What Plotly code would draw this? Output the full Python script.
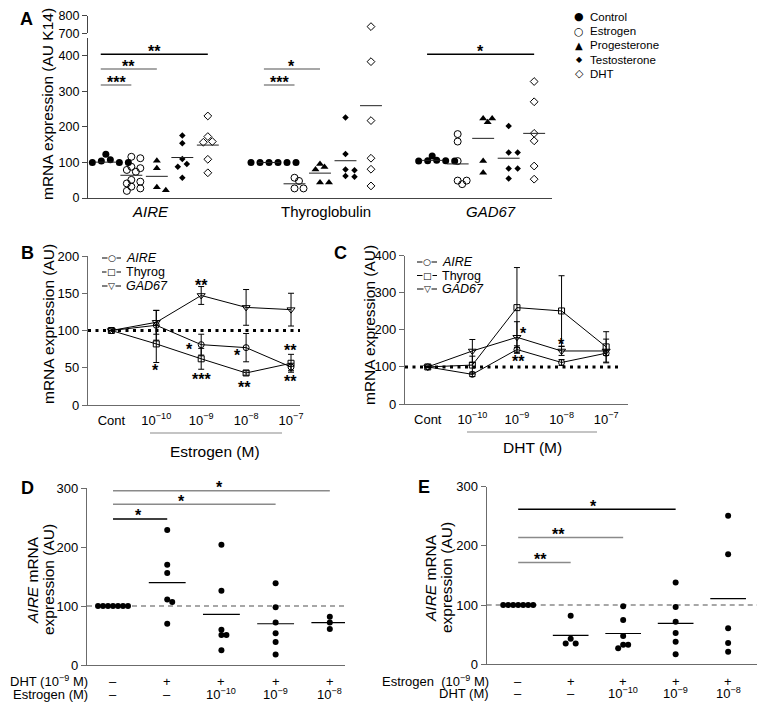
import numpy as np
import plotly.graph_objects as go

W, H = 767, 716
FONT = "Liberation Sans, Arial, Helvetica, sans-serif"
SYM = "DejaVu Sans"
AXC = "#6b6b6b"
GRAY = "#8a8a8a"

# ---------------- data: panel A ----------------
a_genes = ["<i>AIRE</i>", "Thyroglobulin", "<i>GAD67</i>"]
a_treatments = ["Control", "Estrogen", "Progesterone", "Testosterone", "DHT"]

aire_ctrl = [123, 108, 104, 100, 100, 100, 100]
aire_estr = [116, 112, 88, 84, 79, 74, 51, 46, 41, 32, 27, 20]
aire_prog = [105, 84, 30, 22]
aire_test = [176, 154, 110, 96, 88, 57]
aire_dht = [231, 173, 159, 157, 109, 71]
aire_mean = [101, 64, 61, 114, 149]

thyr_ctrl = [100, 100, 100, 100, 100, 100]
thyr_estr = [57, 48, 27, 27]
thyr_prog = [96, 87, 80, 44, 44]
thyr_test = [227, 124, 80, 78, 62, 60]
thyr_dht = [738, 384, 218, 112, 81, 34]
thyr_mean = [100, 40, 70, 105, 260]

gad_ctrl = [118, 106, 105, 105, 104, 104]
gad_estr = [180, 159, 104, 49, 49, 39]
gad_prog = [224, 224, 213, 104, 71]
gad_test = [203, 128, 128, 83, 83, 55]
gad_dht = [328, 271, 182, 161, 90, 53]
gad_mean = [106, 96, 168, 112, 182]

a_sig_gene = [0, 0, 0, 1, 1, 2]
a_sig_treat = [1, 2, 4, 1, 2, 4]
a_sig_y = [318, 363, 405, 318, 363, 405]
a_sig_text = ["***", "**", "**", "***", "*", "*"]

# ---------------- data: panels B, C ----------------
doses = ["Cont", "10<sup>−10</sup>", "10<sup>−9</sup>", "10<sup>−8</sup>", "10<sup>−7</sup>"]
series_names = ["<i>AIRE</i>", "Thyrog", "<i>GAD67</i>"]

b_aire = [100, 107, 81, 77, 51]
b_aire_err = [0, 20, 14, 19, 5]
b_thyr = [100, 82, 62, 43, 56]
b_thyr_err = [0, 25, 14, 3, 12]
b_gad = [100, 111, 147, 131, 128]
b_gad_err = [0, 16, 12, 24, 22]
b_star_x = [2.0, 1.74, 2.0, 0.98, 2.8, 2.96, 3.98, 3.98]
b_star_y = [165, 78, 38, 50, 70, 27, 77, 35]
b_star_text = ["**", "*", "***", "*", "*", "**", "**", "**"]

c_aire = [100, 80, 147, 112, 137]
c_aire_err = [0, 6, 10, 8, 6]
c_thyr = [100, 105, 260, 251, 154]
c_thyr_err = [0, 24, 108, 95, 41]
c_gad = [100, 143, 180, 143, 143]
c_gad_err = [0, 31, 42, 12, 32]
c_star_x = [2.14, 2.03, 2.99]
c_star_y = [199, 123, 168]
c_star_text = ["*", "**", "*"]

# ---------------- data: panels D, E ----------------
d_col1 = [100, 100, 100, 100, 100, 100, 100]
d_col2 = [229, 170, 156, 111, 107, 70]
d_col3 = [204, 126, 60, 51, 51, 25]
d_col4 = [139, 98, 72, 54, 39, 18]
d_col5 = [82, 72, 61]
d_mean = [100, 140, 86, 70, 72]
d_row1 = ["–", "+", "+", "+", "+"]
d_row2 = ["–", "–", "10<sup>−10</sup>", "10<sup>−9</sup>", "10<sup>−8</sup>"]
d_row_labels = ["DHT (10<sup>−9</sup> M)", "Estrogen (M)"]
d_sig_col = [1, 3, 4]
d_sig_y = [248, 273, 296]
d_sig_star_x = [0.47, 1.27, 1.97]
d_sig_text = ["*", "*", "*"]

e_col1 = [100, 100, 100, 100, 100, 100, 100]
e_col2 = [82, 43, 35, 35]
e_col3 = [98, 75, 48, 33, 33, 27]
e_col4 = [138, 97, 72, 53, 38, 17]
e_col5 = [251, 186, 61, 36, 21]
e_mean = [100, 49, 52, 69, 111]
e_row1 = ["–", "+", "+", "+", "+"]
e_row2 = ["–", "–", "10<sup>−10</sup>", "10<sup>−9</sup>", "10<sup>−8</sup>"]
e_row_labels = ["Estrogen  (10<sup>−9</sup> M)", "DHT (M)"]
e_sig_col = [1, 2, 3]
e_sig_y = [172, 214, 262]
e_sig_star_x = [0.43, 0.76, 1.43]
e_sig_text = ["**", "**", "*"]


# ---------------- helpers ----------------
def fx(px):
    return px / W


def fy(py):
    return 1 - py / H


def swarm(vals, ysc, xsc, step=4.5, mind=5.0):
    order = [0]
    for k in range(1, 30):
        order += [k, -k]
    placed, offs = [], []
    for v in vals:
        y = v * ysc
        x = 0
        for k in order:
            x = k * step
            if all((x - a) ** 2 + (y - b) ** 2 >= mind ** 2 for a, b in placed):
                break
        placed.append((x, y))
        offs.append(x / xsc)
    return offs


annotations = []
shapes = []


def ann(text, px, py, size=13, xanchor="center", yanchor="middle", family=FONT, **kw):
    annotations.append(dict(text=text, x=fx(px), y=fy(py), xref="paper", yref="paper",
                            showarrow=False, xanchor=xanchor, yanchor=yanchor, borderpad=0,
                            font=dict(size=size, color="black", family=family), **kw))


def star(text, x, y, xref, yref, yshift=-3):
    annotations.append(dict(text="<b>" + text + "</b>", x=x, y=y, xref=xref, yref=yref,
                            showarrow=False, borderpad=0,
                            xanchor="center", yanchor="middle", yshift=yshift,
                            font=dict(size=16, color="black", family=FONT)))


def yax(dom, rng, **kw):
    d = dict(domain=dom, range=rng, showline=True, linecolor=AXC, linewidth=1.2,
             showgrid=False, zeroline=False, ticks="outside", ticklen=5, tickcolor=AXC,
             tickwidth=1.2, tickfont=dict(size=13, color="black", family=FONT),
             automargin=False)
    d.update(kw)
    return d


def xax(dom, rng, **kw):
    d = dict(domain=dom, range=rng, showline=True, linecolor=AXC, linewidth=1.2,
             showgrid=False, zeroline=False, ticks="", showticklabels=False,
             tickfont=dict(size=13, color="black", family=FONT), automargin=False)
    d.update(kw)
    return d


fig = go.Figure()

# ================= Panel A =================
A_GAP = 6.4
A_XSC, A_YSC = 25.5, 0.355
a_data = [
    [aire_ctrl, aire_estr, aire_prog, aire_test, aire_dht],
    [thyr_ctrl, thyr_estr, thyr_prog, thyr_test, thyr_dht],
    [gad_ctrl, gad_estr, gad_prog, gad_test, gad_dht],
]
a_means = [aire_mean, thyr_mean, gad_mean]
a_style = [
    dict(symbol="circle", size=7, color="black"),
    dict(symbol="circle-open", size=7, color="black", line=dict(width=1, color="black")),
    dict(symbol="triangle-up", size=7, color="black"),
    dict(symbol="diamond", size=5, color="black"),
    dict(symbol="diamond-open", size=6, color="black", line=dict(width=1, color="black")),
]
BREAK = 600
for t, name in enumerate(a_treatments):
    xl, yl, xu, yu = [], [], [], []
    for g in range(len(a_genes)):
        vals = a_data[g][t]
        offs = swarm(vals, A_YSC, A_XSC, step=4.5, mind=5.5)
        for v, o in zip(vals, offs):
            xv = g * A_GAP + t + o
            if v > BREAK:
                xu.append(xv); yu.append(v)
            else:
                xl.append(xv); yl.append(v)
    fig.add_trace(go.Scatter(x=xl, y=yl, mode="markers", marker=a_style[t], name=name,
                             xaxis="x", yaxis="y", cliponaxis=False))
    if xu:
        fig.add_trace(go.Scatter(x=xu, y=yu, mode="markers", marker=a_style[t], name=name,
                                 xaxis="x", yaxis="y2", cliponaxis=False))
mx, my = [], []
for g in range(len(a_genes)):
    for t in range(len(a_treatments)):
        c = g * A_GAP + t
        mx += [c - 0.43, c + 0.43, None]
        my += [a_means[g][t], a_means[g][t], None]
fig.add_trace(go.Scatter(x=mx, y=my, mode="lines", line=dict(color="#222", width=1),
                         xaxis="x", yaxis="y"))

a_sig_color = [GRAY, GRAY, "black", GRAY, GRAY, "black"]
for g, t, yv, txt, col in zip(a_sig_gene, a_sig_treat, a_sig_y, a_sig_text, a_sig_color):
    x0 = g * A_GAP - 0.2
    x1 = g * A_GAP + t
    shapes.append(dict(type="line", xref="x", yref="y", x0=x0, x1=x1, y0=yv, y1=yv,
                       line=dict(color=col, width=1.5)))
    star(txt, (x0 + x1) / 2, yv, "x", "y", yshift=3)

# group labels
for g, (lab, px) in enumerate(zip(a_genes, [150, 326, 491])):
    ann(lab, px, 212, size=15)

# legend A
a_leg_glyph = ["●", "○", "▲", "◆", "◇"]
a_leg_size = [11, 11, 10, 8, 11]
for i, (gl, nm) in enumerate(zip(a_leg_glyph, a_treatments)):
    py = 17 + i * 14.2
    ann(gl, 579, py, size=a_leg_size[i], family=SYM)
    ann(nm, 589, py, size=11.5, xanchor="left")

ann("<b>A</b>", 26, 19, size=18)
ann("mRNA expression (AU K14)", 48, 104, size=15.5, textangle=-90)

# ================= Panels B, C =================
def dose_panel(xa, ya, vals_list, err_list, star_x, star_y, star_text):
    xs = list(range(len(doses)))
    syms = ["circle-open", "square-open", "triangle-down-open"]
    sizes = [6, 6, 7]
    for vals, errs, s, sz in zip(vals_list, err_list, syms, sizes):
        fig.add_trace(go.Scatter(
            x=xs, y=vals, mode="lines+markers", xaxis=xa, yaxis=ya, cliponaxis=False,
            line=dict(color="black", width=1),
            marker=dict(symbol=s, size=sz, color="black", line=dict(width=1, color="black")),
            error_y=dict(type="data", array=[e if e > 0 else None for e in errs], visible=True,
                         thickness=1, width=3, color="black")))
    for sx, sy, st in zip(star_x, star_y, star_text):
        star(st, sx, sy, xa, ya)


dose_panel("x3", "y3", [b_aire, b_thyr, b_gad], [b_aire_err, b_thyr_err, b_gad_err],
           b_star_x, b_star_y, b_star_text)
dose_panel("x4", "y4", [c_aire, c_thyr, c_gad], [c_aire_err, c_thyr_err, c_gad_err],
           c_star_x, c_star_y, c_star_text)

B_XR = [-0.52, 4.2]
C_XR = [-0.51, 4.49]
shapes.append(dict(type="line", xref="x3", yref="y3", x0=B_XR[0], x1=B_XR[1], y0=100, y1=100,
                   line=dict(color="black", width=3, dash="3px,4.5px"), layer="below"))
shapes.append(dict(type="line", xref="x4", yref="y4", x0=C_XR[0], x1=4.3, y0=100, y1=100,
                   line=dict(color="black", width=3, dash="3px,4.5px"), layer="below"))

# bracket lines under dose labels
shapes.append(dict(type="line", xref="paper", yref="paper", x0=fx(150), x1=fx(282), y0=fy(433), y1=fy(433),
                   line=dict(color=GRAY, width=1.2)))
shapes.append(dict(type="line", xref="paper", yref="paper", x0=fx(467), x1=fx(597), y0=fy(432), y1=fy(432),
                   line=dict(color=GRAY, width=1.2)))
ann("Estrogen (M)", 215, 452, size=15.5)
ann("DHT (M)", 532, 447, size=15.5)

# legends B, C
leg_glyph = ["○", "□", "▽"]
leg_gsize = [9, 9, 9]
for (lx0, lx1, tx, rows) in [(102, 121, 125, [258, 272, 286]), (417, 437, 441, [262, 275.5, 289])]:
    for i, nm in enumerate(series_names):
        py = rows[i]
        shapes.append(dict(type="line", xref="paper", yref="paper", x0=fx(lx0), x1=fx(lx1),
                           y0=fy(py), y1=fy(py), line=dict(color="black", width=1)))
        ann(leg_glyph[i], (lx0 + lx1) / 2, py, size=leg_gsize[i], family=SYM,
            bgcolor="white")
        ann(nm, tx, py, size=12.5, xanchor="left")

ann("<b>B</b>", 28, 253, size=18)
ann("<b>C</b>", 340, 253, size=18)
ann("mRNA expression (AU)", 48, 324, size=15.5, textangle=-90)
ann("mRNA expression (AU)", 369, 325, size=15.5, textangle=-90)

# ================= Panels D, E =================
def dot_panel(xa, ya, cols, means, ysc, xsc, sig_col, sig_y, sig_sx, sig_text, sig_colors,
              row1, row2, row_labels, row_py, label_px):
    xs, ys = [], []
    for i, vals in enumerate(cols):
        offs = swarm(vals, ysc, xsc, step=5.0, mind=5.0)
        for v, o in zip(vals, offs):
            xs.append(i + o); ys.append(v)
    fig.add_trace(go.Scatter(x=xs, y=ys, mode="markers", xaxis=xa, yaxis=ya, cliponaxis=False,
                             marker=dict(symbol="circle", size=6, color="black")))
    lx, ly = [], []
    for i, m in enumerate(means):
        if i == 0:
            continue
        lx += [i - 0.34, i + 0.34, None]
        ly += [m, m, None]
    fig.add_trace(go.Scatter(x=lx, y=ly, mode="lines", xaxis=xa, yaxis=ya,
                             line=dict(color="black", width=1.2)))
    for c, yv, sx, txt, col in zip(sig_col, sig_y, sig_sx, sig_text, sig_colors):
        shapes.append(dict(type="line", xref=xa, yref=ya, x0=0, x1=c, y0=yv, y1=yv,
                           line=dict(color=col, width=1.5)))
        star(txt, sx, yv, xa, ya, yshift=3)
    for i in range(len(row1)):
        for txt, py in zip([row1[i], row2[i]], row_py):
            annotations.append(dict(text=txt, x=i, y=fy(py), xref=xa, yref="paper", showarrow=False,
                                    xanchor="center", yanchor="middle", borderpad=0,
                                    font=dict(size=13, color="black", family=FONT)))
    for txt, py in zip(row_labels, row_py):
        ann(txt, label_px, py, size=13, xanchor="right")


D_XR = [-0.48, 4.28]
E_XR = [-0.6, 4.55]
dot_panel("x5", "y5", [d_col1, d_col2, d_col3, d_col4, d_col5], d_mean, 0.589, 54.2,
          d_sig_col, d_sig_y, d_sig_star_x, d_sig_text, ["black", GRAY, GRAY],
          d_row1, d_row2, d_row_labels, [681, 694], 89)
dot_panel("x6", "y6", [e_col1, e_col2, e_col3, e_col4, e_col5], e_mean, 0.592, 52.5,
          e_sig_col, e_sig_y, e_sig_star_x, e_sig_text, [GRAY, GRAY, "black"],
          e_row1, e_row2, e_row_labels, [681, 693], 490)
shapes.append(dict(type="line", xref="x5", yref="y5", x0=D_XR[0], x1=D_XR[1], y0=100, y1=100,
                   line=dict(color=GRAY, width=1.5, dash="5px,4px"), layer="below"))
shapes.append(dict(type="line", xref="x6", yref="y6", x0=E_XR[0], x1=E_XR[1], y0=100, y1=100,
                   line=dict(color=GRAY, width=1.5, dash="5px,4px"), layer="below"))

ann("<b>D</b>", 27, 488, size=18)
ann("<b>E</b>", 424, 487, size=18)
ann("<i>AIRE</i> mRNA", 32, 580, size=15.5, textangle=-90)
ann("expression (AU)", 48, 580, size=15.5, textangle=-90)
ann("<i>AIRE</i> mRNA", 430, 578, size=15.5, textangle=-90)
ann("expression (AU)", 446, 578, size=15.5, textangle=-90)

# ================= layout =================
fig.update_layout(
    width=W, height=H, margin=dict(l=0, r=0, t=0, b=0, pad=0, autoexpand=False),
    paper_bgcolor="white", plot_bgcolor="white", showlegend=False,
    font=dict(family=FONT, color="black"),
    xaxis=xax([fx(88), fx(552)], [-0.7, 17.5], anchor="y", linecolor="#444"),
    yaxis=yax([fy(198), fy(37.5)], [0, 452], anchor="x", tickvals=[0, 100, 200, 300, 400],
              linecolor="#444", tickcolor="#444", tickfont=dict(size=12.5, color="black", family=FONT)),
    yaxis2=yax([fy(33.3), fy(15.7)], [700, 800], anchor="x", tickvals=[700, 800],
               linecolor="#444", tickcolor="#444", tickfont=dict(size=12.5, color="black", family=FONT)),
    xaxis3=xax([fx(88), fx(300)], B_XR, anchor="y3", showticklabels=True, ticklabelstandoff=3,
               tickvals=list(range(len(doses))), ticktext=doses),
    yaxis3=yax([fy(405), fy(256)], [0, 200], anchor="x3", tickvals=[0, 50, 100, 150, 200]),
    xaxis4=xax([fx(405), fx(628)], C_XR, anchor="y4", showticklabels=True, ticklabelstandoff=3,
               tickvals=list(range(len(doses))), ticktext=doses),
    yaxis4=yax([fy(404), fy(255.7)], [0, 400], anchor="x4", tickvals=[0, 100, 200, 300, 400]),
    xaxis5=xax([fx(87), fx(345)], D_XR, anchor="y5"),
    yaxis5=yax([fy(665), fy(488.3)], [0, 300], anchor="x5", tickvals=[0, 100, 200, 300]),
    xaxis6=xax([fx(486.7), fx(757)], E_XR, anchor="y6"),
    yaxis6=yax([fy(664.3), fy(486.7)], [0, 300], anchor="x6", tickvals=[0, 100, 200, 300]),
    annotations=annotations,
    shapes=shapes,
)

fig.write_html("out.html", config={"displayModeBar": False},
               post_script="document.body.style.margin='0';document.body.style.overflow='hidden';")
